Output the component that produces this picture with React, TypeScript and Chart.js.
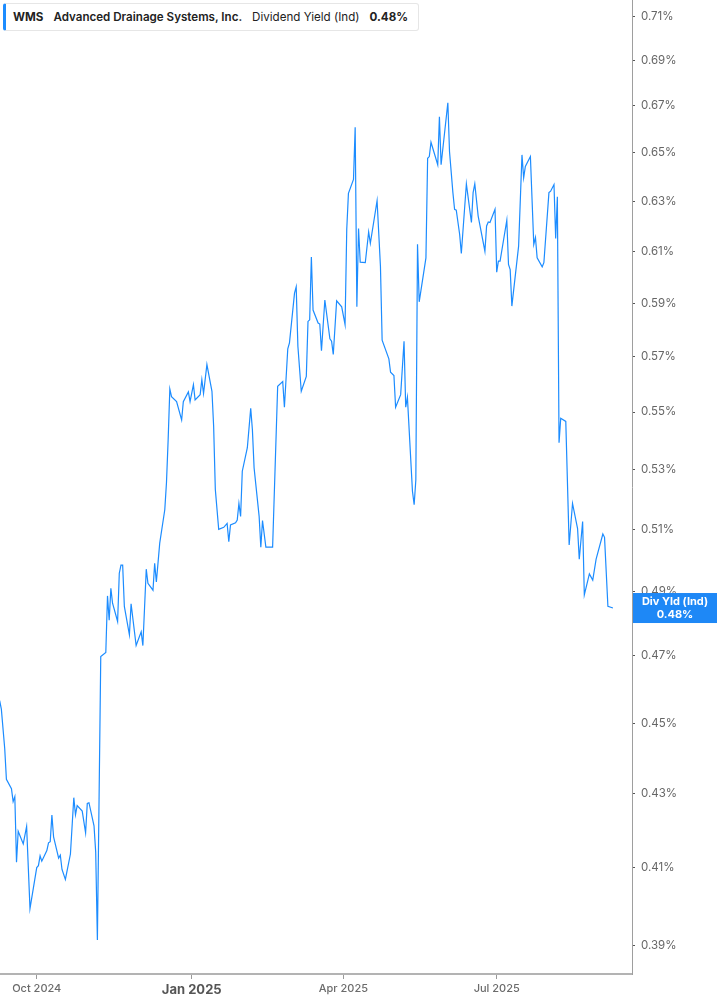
import { useEffect, useRef } from "react";
import { Chart, registerables } from "chart.js";

Chart.register(...registerables);

// WMS dividend yield (indicated, in %)
const DATES = [
  "2024-09-09", "2024-09-10", "2024-09-12", "2024-09-13", "2024-09-16", "2024-09-17",
  "2024-09-18", "2024-09-19", "2024-09-20", "2024-09-23", "2024-09-25", "2024-09-27",
  "2024-10-01", "2024-10-02", "2024-10-03", "2024-10-04", "2024-10-07", "2024-10-08",
  "2024-10-09", "2024-10-10", "2024-10-11", "2024-10-14", "2024-10-15", "2024-10-16",
  "2024-10-18", "2024-10-21", "2024-10-23", "2024-10-24", "2024-10-25", "2024-10-28",
  "2024-10-30", "2024-10-31", "2024-11-01", "2024-11-04", "2024-11-05", "2024-11-06",
  "2024-11-08", "2024-11-11", "2024-11-12", "2024-11-13", "2024-11-14", "2024-11-15",
  "2024-11-18", "2024-11-19", "2024-11-20", "2024-11-21", "2024-11-22", "2024-11-25",
  "2024-11-26", "2024-11-29", "2024-12-02", "2024-12-03", "2024-12-05", "2024-12-06",
  "2024-12-09", "2024-12-10", "2024-12-11", "2024-12-13", "2024-12-16", "2024-12-17",
  "2024-12-18", "2024-12-19", "2024-12-20", "2024-12-23", "2024-12-26", "2024-12-27",
  "2024-12-30", "2024-12-31", "2025-01-02", "2025-01-03", "2025-01-06", "2025-01-07",
  "2025-01-08", "2025-01-10", "2025-01-13", "2025-01-14", "2025-01-15", "2025-01-17",
  "2025-01-20", "2025-01-22", "2025-01-23", "2025-01-24", "2025-01-27", "2025-01-28",
  "2025-01-29", "2025-01-30", "2025-01-31", "2025-02-03", "2025-02-05", "2025-02-06",
  "2025-02-07", "2025-02-10", "2025-02-11", "2025-02-12", "2025-02-14", "2025-02-18",
  "2025-02-21", "2025-02-24", "2025-02-25", "2025-02-27", "2025-02-28", "2025-03-03",
  "2025-03-04", "2025-03-05", "2025-03-07", "2025-03-10", "2025-03-11", "2025-03-12",
  "2025-03-13", "2025-03-14", "2025-03-17", "2025-03-18", "2025-03-19", "2025-03-21",
  "2025-03-24", "2025-03-25", "2025-03-26", "2025-03-28", "2025-03-31", "2025-04-02",
  "2025-04-03", "2025-04-04", "2025-04-07", "2025-04-08", "2025-04-09", "2025-04-10",
  "2025-04-11", "2025-04-14", "2025-04-16", "2025-04-17", "2025-04-21", "2025-04-23",
  "2025-04-24", "2025-04-28", "2025-04-29", "2025-05-01", "2025-05-02", "2025-05-05",
  "2025-05-07", "2025-05-08", "2025-05-09", "2025-05-12", "2025-05-13", "2025-05-14",
  "2025-05-15", "2025-05-16", "2025-05-20", "2025-05-21", "2025-05-22", "2025-05-23",
  "2025-05-27", "2025-05-28", "2025-05-29", "2025-06-02", "2025-06-03", "2025-06-05",
  "2025-06-06", "2025-06-07", "2025-06-09", "2025-06-10", "2025-06-13", "2025-06-16",
  "2025-06-17", "2025-06-18", "2025-06-20", "2025-06-24", "2025-06-25", "2025-06-26",
  "2025-06-27", "2025-06-30", "2025-07-01", "2025-07-02", "2025-07-03", "2025-07-07",
  "2025-07-08", "2025-07-09", "2025-07-10", "2025-07-14", "2025-07-16", "2025-07-17",
  "2025-07-18", "2025-07-21", "2025-07-23", "2025-07-24", "2025-07-25", "2025-07-28",
  "2025-07-29", "2025-08-01", "2025-08-02", "2025-08-04", "2025-08-05", "2025-08-06",
  "2025-08-07", "2025-08-08", "2025-08-11", "2025-08-13", "2025-08-15", "2025-08-18",
  "2025-08-19", "2025-08-21", "2025-08-22", "2025-08-25", "2025-08-27", "2025-08-29",
  "2025-09-02", "2025-09-03", "2025-09-05", "2025-09-08",
];

const YIELDS = [
  0.4566, 0.4541, 0.4427, 0.434, 0.4314, 0.4278,
  0.4292, 0.4114, 0.4197, 0.4163, 0.421, 0.3993,
  0.41, 0.4105, 0.4131, 0.4117, 0.4145, 0.4166,
  0.4169, 0.4241, 0.4182, 0.4125, 0.4133, 0.4095,
  0.4069, 0.4136, 0.4289, 0.4242, 0.4267, 0.4252,
  0.4193, 0.4273, 0.4275, 0.4212, 0.4141, 0.3913,
  0.4698, 0.471, 0.4885, 0.4809, 0.4909, 0.4862,
  0.4805, 0.4957, 0.4983, 0.4983, 0.4852, 0.4764,
  0.486, 0.4731, 0.4773, 0.4731, 0.497, 0.4925,
  0.4903, 0.4989, 0.4929, 0.5054, 0.5164, 0.5255,
  0.5403, 0.5582, 0.5555, 0.5537, 0.5472, 0.5537,
  0.5572, 0.5537, 0.5598, 0.5543, 0.5562, 0.5616,
  0.5566, 0.5671, 0.5574, 0.5449, 0.5232, 0.5099,
  0.5106, 0.5119, 0.5059, 0.5114, 0.5121, 0.513,
  0.5185, 0.5142, 0.5294, 0.5375, 0.5513, 0.5438,
  0.5306, 0.5142, 0.5041, 0.5128, 0.5041, 0.5041,
  0.5592, 0.5609, 0.5517, 0.5729, 0.5751, 0.5938,
  0.5962, 0.5738, 0.5574, 0.5628, 0.5831, 0.5837,
  0.6078, 0.5874, 0.5825, 0.5821, 0.5722, 0.5912,
  0.5766, 0.5757, 0.5708, 0.5909, 0.5886, 0.5819,
  0.6188, 0.6333, 0.639, 0.6609, 0.5886, 0.6191,
  0.6058, 0.6056, 0.6177, 0.6132, 0.6303, 0.6042,
  0.5761, 0.5692, 0.5643, 0.5631, 0.5517, 0.5562,
  0.5757, 0.5517, 0.5553, 0.5226, 0.5181, 0.5264,
  0.6128, 0.5905, 0.6075, 0.6478, 0.6485, 0.6545,
  0.6451, 0.6654, 0.6451, 0.6714, 0.6505, 0.6336,
  0.6268, 0.6265, 0.6168, 0.6092, 0.6372, 0.6215,
  0.6336, 0.6372, 0.6241, 0.6101, 0.6201, 0.6217,
  0.6215, 0.6268, 0.6019, 0.6062, 0.6062, 0.6224,
  0.6049, 0.6029, 0.5889, 0.6121, 0.6492, 0.6397,
  0.6444, 0.6485, 0.6128, 0.6155, 0.6075, 0.604,
  0.6056, 0.6336, 0.6342, 0.6369, 0.6151, 0.6319,
  0.5392, 0.5478, 0.5467, 0.5048, 0.5185, 0.5102,
  0.5002, 0.5125, 0.4888, 0.4955, 0.4935, 0.5002,
  0.5084, 0.5073, 0.4852, 0.4847,
];

const Y_TICKS = [
  0.39, 0.41, 0.43, 0.45, 0.47, 0.49, 0.51, 0.53, 0.55,
  0.57, 0.59, 0.61, 0.63, 0.65, 0.67, 0.69, 0.71,
];

const X_TICK_DATES = ["2024-10-01", "2025-01-01", "2025-04-01", "2025-07-01"];
const X_TICK_LABELS = ["Oct 2024", "Jan 2025", "Apr 2025", "Jul 2025"];
const YEAR_TICK = "Jan 2025";

const TICKER = "WMS";
const COMPANY = "Advanced Drainage Systems, Inc.";
const METRIC = "Dividend Yield (Ind)";
const TAG_LABEL = "Div Yld (Ind)";

const LINE_BLUE = "#1c8cff";
const FONT = "Inter, 'Noto Sans', sans-serif";

const dayNum = (iso: string) => Date.parse(iso + "T00:00:00Z") / 86400000;
// values are already percentages
const pct = (v: number) => v.toFixed(2) + "%";

const lastValue = YIELDS[YIELDS.length - 1];

const lastTagPlugin = {
  id: "lastTag",
  afterDraw(chart: any) {
    const { ctx, chartArea } = chart;
    const y = chart.scales.y.getPixelForValue(lastValue);
    const left = chartArea.right + 1;
    const w = chart.width - left;
    ctx.save();
    ctx.fillStyle = "#1e88f6";
    ctx.fillRect(left, y - 15, w, 30);
    ctx.fillStyle = "#ffffff";
    ctx.font = `bold 11px ${FONT}`;
    ctx.textAlign = "center";
    ctx.textBaseline = "middle";
    ctx.fillText(TAG_LABEL, left + w / 2, y - 6);
    ctx.fillText(pct(lastValue), left + w / 2, y + 7);
    ctx.restore();
  },
};

export default function App() {
  const canvasRef = useRef<HTMLCanvasElement>(null);

  useEffect(() => {
    document.body.style.margin = "0";
    if (!canvasRef.current) return;
    const ctx = canvasRef.current.getContext("2d");
    if (!ctx) return;

    const origin = dayNum("2024-10-01");
    const tickDays = X_TICK_DATES.map(dayNum);
    const isYear = (v: any) => X_TICK_LABELS[tickDays.indexOf(v)] === YEAR_TICK;

    const chart = new Chart(ctx, {
      type: "line",
      data: {
        datasets: [
          {
            label: METRIC,
            data: DATES.map((d, i) => ({ x: dayNum(d), y: YIELDS[i] })),
            borderColor: LINE_BLUE,
            borderWidth: 1.2,
            pointRadius: 0,
            tension: 0,
            fill: false,
          },
        ],
      },
      options: {
        animation: false,
        responsive: true,
        maintainAspectRatio: false,
        layout: { padding: 0 },
        plugins: {
          legend: { display: false },
          tooltip: { enabled: false },
        },
        scales: {
          x: {
            type: "linear",
            min: origin - 21.8,
            max: origin + 353.3,
            afterBuildTicks: (scale: any) => {
              scale.ticks = tickDays.map((v) => ({ value: v }));
            },
            afterFit: (scale: any) => {
              scale.height = 31;
              scale.paddingLeft = 0;
              scale.paddingRight = 0;
            },
            ticks: {
              autoSkip: false,
              maxRotation: 0,
              padding: 3,
              color: (c: any) => (isYear(c.tick?.value) ? "#555555" : "#6b6b6b"),
              font: (c: any) =>
                isYear(c.tick?.value)
                  ? { family: FONT, size: 13, weight: "bold" }
                  : { family: FONT, size: 11, weight: "500" },
              callback: (v: any) => X_TICK_LABELS[tickDays.indexOf(v)] ?? "",
            },
            grid: {
              display: true,
              drawOnChartArea: false,
              drawTicks: true,
              tickLength: 5,
              color: "#9a9a9a",
            },
            border: { display: true, color: "#b3b3b3", width: 2 },
          },
          y: {
            type: "logarithmic",
            position: "right",
            min: 0.3828,
            max: 0.7174,
            afterBuildTicks: (scale: any) => {
              scale.ticks = Y_TICKS.map((v) => ({ value: v }));
            },
            afterFit: (scale: any) => {
              scale.width = 85;
              scale.paddingTop = 0;
              scale.paddingBottom = 0;
            },
            ticks: {
              autoSkip: false,
              padding: 6,
              color: "#666666",
              font: { family: FONT, size: 11.5 },
              callback: (v: any) => pct(Number(v)),
            },
            grid: {
              display: true,
              drawOnChartArea: false,
              drawTicks: true,
              tickLength: 3,
              color: "#555555",
            },
            border: { display: true, color: "#9e9e9e", width: 1 },
          },
        },
      },
      plugins: [lastTagPlugin],
    } as any);

    return () => chart.destroy();
  }, []);

  return (
    <div
      style={{
        position: "absolute",
        left: 0,
        top: 0,
        width: 717,
        height: 1005,
        background: "#ffffff",
        fontFamily: FONT,
      }}
    >
      <canvas ref={canvasRef} />
      <div
        style={{
          position: "absolute",
          left: 3,
          top: 3,
          height: 26,
          display: "flex",
          alignItems: "center",
          gap: 10,
          padding: "0 10px 0 7px",
          background: "#ffffff",
          border: "1px solid #e6e6e6",
          borderLeft: "3px solid #1c8cff",
          borderRadius: 3,
          fontSize: 11.6,
          color: "#222222",
          whiteSpace: "nowrap",
        }}
      >
        <span style={{ fontWeight: 700 }}>{TICKER}</span>
        <span style={{ fontWeight: 600 }}>{COMPANY}</span>
        <span style={{ fontWeight: 400 }}>{METRIC}</span>
        <span style={{ fontWeight: 700 }}>{pct(lastValue)}</span>
      </div>
    </div>
  );
}
